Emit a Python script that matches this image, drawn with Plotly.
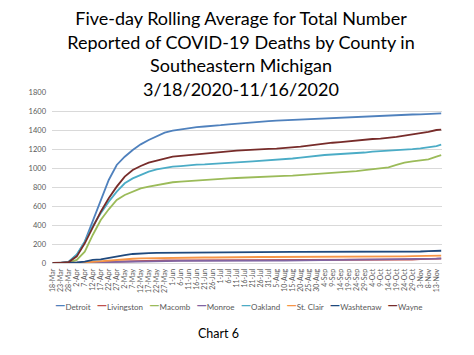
import plotly.graph_objects as go

dates = ["2020-03-18", "2020-03-23", "2020-03-28", "2020-04-02", "2020-04-07", "2020-04-12",
         "2020-04-17", "2020-04-22", "2020-04-27", "2020-05-02", "2020-05-07", "2020-05-12",
         "2020-05-17", "2020-05-22", "2020-05-27", "2020-06-01", "2020-06-06", "2020-06-11",
         "2020-06-16", "2020-06-21", "2020-06-26", "2020-07-01", "2020-07-06", "2020-07-11",
         "2020-07-16", "2020-07-21", "2020-07-26", "2020-07-31", "2020-08-05", "2020-08-10",
         "2020-08-15", "2020-08-20", "2020-08-25", "2020-08-30", "2020-09-04", "2020-09-09",
         "2020-09-14", "2020-09-19", "2020-09-24", "2020-09-29", "2020-10-04", "2020-10-09",
         "2020-10-14", "2020-10-19", "2020-10-24", "2020-10-29", "2020-11-03", "2020-11-08",
         "2020-11-13", "2020-11-16"]

tick_labels = ["18-Mar", "23-Mar", "28-Mar", "2-Apr", "7-Apr", "12-Apr", "17-Apr", "22-Apr",
               "27-Apr", "2-May", "7-May", "12-May", "17-May", "22-May", "27-May", "1-Jun",
               "6-Jun", "11-Jun", "16-Jun", "21-Jun", "26-Jun", "1-Jul", "6-Jul", "11-Jul",
               "16-Jul", "21-Jul", "26-Jul", "31-Jul", "5-Aug", "10-Aug", "15-Aug", "20-Aug",
               "25-Aug", "30-Aug", "4-Sep", "9-Sep", "14-Sep", "19-Sep", "24-Sep", "29-Sep",
               "4-Oct", "9-Oct", "14-Oct", "19-Oct", "24-Oct", "29-Oct", "3-Nov", "8-Nov", "13-Nov"]

detroit = [0, 2, 14, 84, 225, 435, 646, 874, 1032, 1119, 1190, 1249, 1295, 1337, 1372, 1393,
           1407, 1425, 1431, 1437, 1442, 1451, 1460, 1468, 1477, 1483, 1488, 1493, 1498, 1502,
           1505, 1510, 1516, 1520, 1523, 1528, 1533, 1537, 1540, 1544, 1547, 1551, 1554, 1558,
           1561, 1563, 1565, 1569, 1572, 1575]
livingston = [0, 0, 0, 2, 5, 9, 12, 15, 18, 20, 22, 23, 25, 26, 27, 28, 28, 28, 29, 29, 29, 30,
              30, 30, 30, 30, 30, 30, 30, 31, 31, 31, 31, 31, 31, 31, 32, 32, 32, 32, 32, 33,
              33, 34, 35, 37, 40, 42, 44, 46]
macomb = [0, 0, 5, 32, 119, 295, 453, 565, 663, 716, 751, 786, 804, 821, 839, 850, 856, 863,
          868, 873, 878, 884, 890, 895, 900, 903, 905, 910, 915, 918, 920, 926, 932, 935, 937,
          945, 954, 961, 968, 977, 986, 996, 1007, 1032, 1056, 1070, 1084, 1091, 1119, 1135]
monroe = [0, 0, 0, 1, 2, 5, 8, 10, 13, 15, 17, 18, 20, 20, 21, 22, 22, 22, 23, 23, 23, 23, 24,
          24, 24, 24, 25, 25, 25, 25, 26, 26, 26, 27, 27, 28, 28, 28, 29, 32, 34, 36, 38, 39,
          40, 41, 43, 45, 47, 49]
oakland = [0, 2, 15, 90, 225, 390, 523, 646, 751, 839, 891, 926, 961, 986, 1004, 1014, 1020,
           1030, 1035, 1038, 1042, 1046, 1050, 1058, 1065, 1070, 1075, 1080, 1085, 1092, 1100,
           1110, 1120, 1130, 1137, 1142, 1147, 1150, 1154, 1163, 1172, 1177, 1182, 1185, 1189,
           1198, 1207, 1218, 1231, 1245]
st_clair = [0, 0, 1, 3, 6, 12, 20, 28, 35, 40, 45, 48, 50, 52, 54, 55, 56, 57, 57, 58, 58, 60,
            61, 62, 62, 62, 63, 63, 63, 63, 63, 63, 64, 64, 64, 64, 65, 65, 65, 65, 65, 66, 67,
            69, 70, 72, 73, 75, 77, 78]
washtenaw = [0, 0, 2, 6, 14, 32, 39, 56, 74, 84, 95, 102, 105, 107, 108, 109, 110, 110, 111,
             111, 112, 112, 116, 117, 117, 117, 117, 118, 118, 118, 118, 118, 118, 119, 119,
             119, 119, 119, 119, 119, 120, 120, 120, 120, 120, 120, 121, 126, 128, 129]
wayne = [0, 1, 10, 70, 207, 382, 540, 681, 804, 909, 979, 1021, 1056, 1077, 1102, 1119, 1128,
         1137, 1147, 1154, 1161, 1168, 1175, 1182, 1189, 1195, 1200, 1202, 1203, 1208, 1214,
         1225, 1235, 1247, 1259, 1266, 1273, 1282, 1291, 1298, 1305, 1310, 1315, 1327, 1340,
         1352, 1364, 1380, 1400, 1405]

series_names = ["Detroit", "Livingston", "Macomb", "Monroe", "Oakland", "St. Clair",
                "Washtenaw", "Wayne"]
series_values = [detroit, livingston, macomb, monroe, oakland, st_clair, washtenaw, wayne]
series_colors = ["#4F81BD", "#C0504D", "#9BBB59", "#8064A2", "#4BACC6", "#F79646",
                 "#1F497D", "#772C2A"]

FONT = "Lato, 'Open Sans', sans-serif"

fig = go.Figure()
for name, vals, col in zip(series_names, series_values, series_colors):
    fig.add_trace(go.Scatter(x=dates, y=vals, name=name, mode="lines",
                             line=dict(color=col, width=1.8), showlegend=False))

# legend row built as text from the series names and colours
legend_parts = []
for name, col in zip(series_names, series_colors):
    legend_parts.append(
        f"<span style='color:{col};font-size:13px'><b>—</b></span>{name}")
legend_text = "&nbsp;&nbsp;&nbsp;".join(legend_parts)

# the page adds an 8px body margin, so the figure is sized to fit inside it
fig.update_layout(
    width=466, height=347,
    margin=dict(l=44, r=32, t=84, b=92),
    paper_bgcolor="white", plot_bgcolor="white",
    font=dict(family=FONT, color="#595959"),
    title=dict(
        text="Five-day Rolling Average for Total Number<br>Reported of COVID-19 Deaths by County in"
             "<br>Southeastern Michigan<br>3/18/2020-11/16/2020",
        x=0.5, xref="container", xanchor="center",
        y=0.950, yref="container", yanchor="top",
        font=dict(family=FONT, size=18, color="black"),
    ),
    xaxis=dict(
        type="date",
        range=["2020-03-17 12:00", "2020-11-16 12:00"],
        tickmode="array", tickvals=dates[:-1], ticktext=tick_labels,
        tickangle=-90, tickfont=dict(size=7, color="#595959"),
        showgrid=False, showline=True, linecolor="#D9D9D9", linewidth=1,
        ticks="", zeroline=False, ticklabelstandoff=2,
    ),
    yaxis=dict(
        range=[0, 1800], tickvals=list(range(0, 1801, 200)),
        tickfont=dict(size=7.5, color="#595959"),
        showgrid=True, gridcolor="#D9D9D9", gridwidth=1,
        zeroline=False, showline=False, ticks="", ticklen=0,
        ticklabelstandoff=5,
    ),
    annotations=[
        dict(text=legend_text, xref="paper", yref="paper", x=0.479, y=-0.246,
             xanchor="center", yanchor="middle", showarrow=False,
             font=dict(family=FONT, size=8, color="#595959")),
        dict(text="Chart 6", xref="paper", yref="paper", x=0.428, y=-0.415,
             xanchor="center", yanchor="middle", showarrow=False,
             font=dict(family=FONT, size=12.5, color="black")),
    ],
)

fig.write_html("out.html")
